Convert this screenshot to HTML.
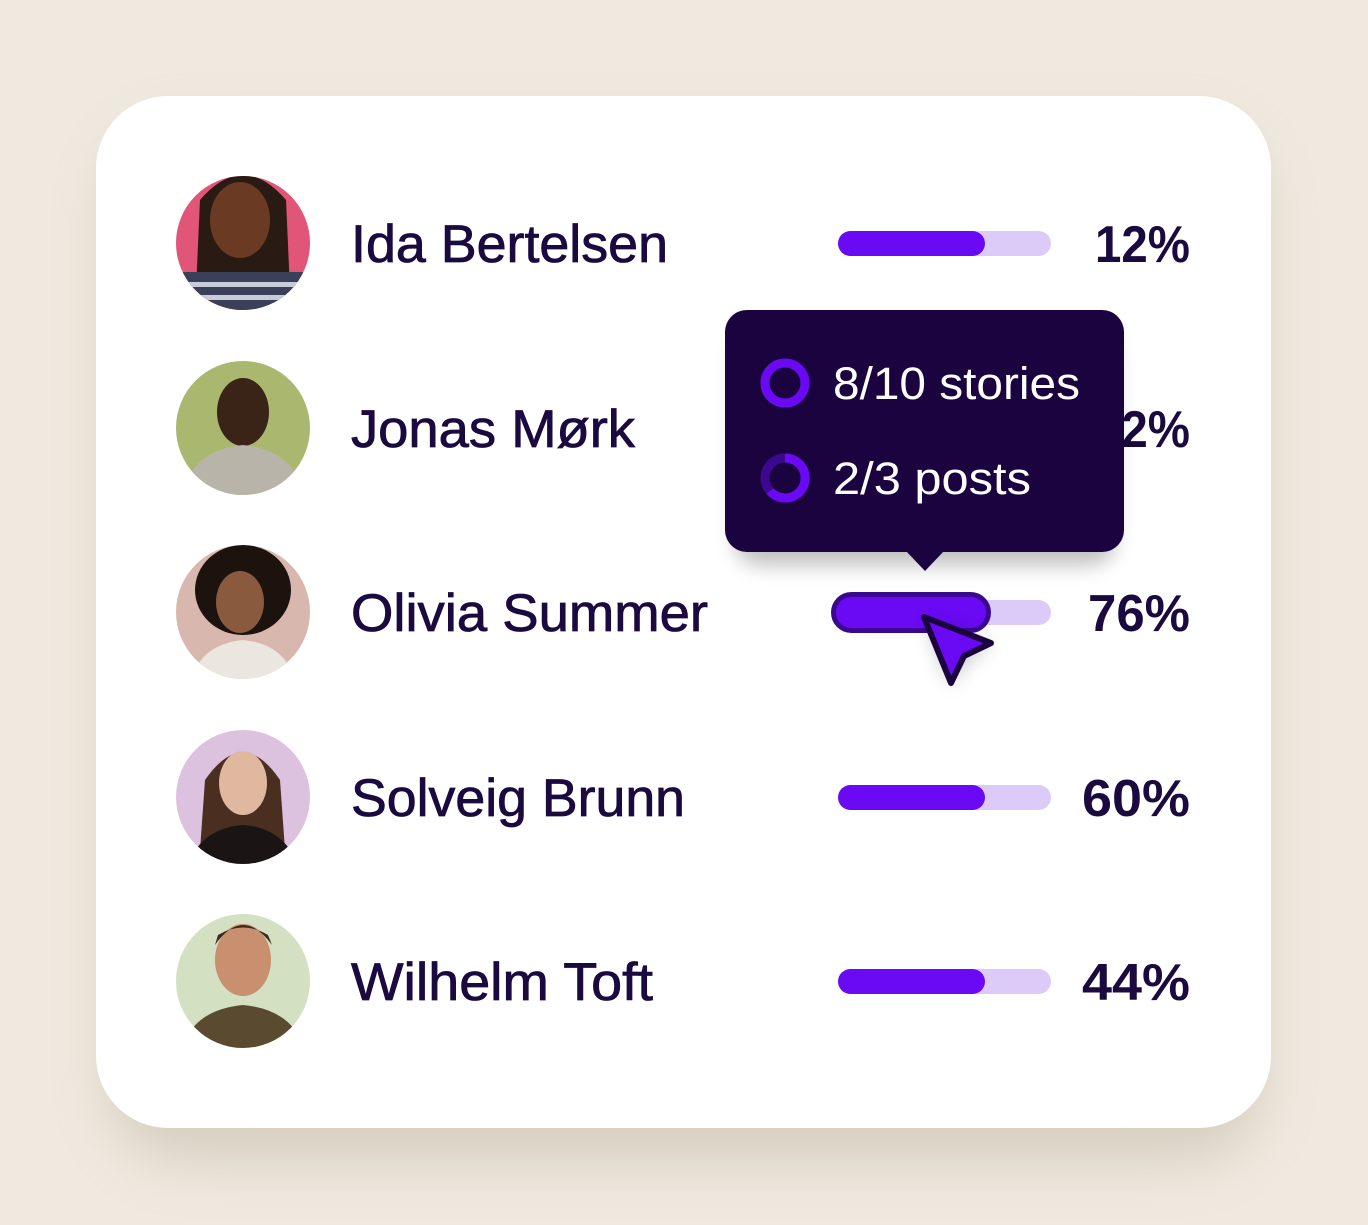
<!DOCTYPE html>
<html><head><meta charset="utf-8"><style>
html,body{margin:0;padding:0;background:#efe9df;}
svg{display:block}
text{font-family:"Liberation Sans",sans-serif}
</style></head><body>
<svg width="1368" height="1225" viewBox="0 0 1368 1225" xmlns="http://www.w3.org/2000/svg">
<defs>
<filter id="sh" x="-20%" y="-20%" width="140%" height="150%"><feGaussianBlur stdDeviation="28"/></filter>
<filter id="sh2" x="-20%" y="-20%" width="140%" height="160%"><feGaussianBlur stdDeviation="10"/></filter>
<clipPath id="c1"><circle cx="243" cy="243" r="67"/></clipPath>
<clipPath id="c2"><circle cx="243" cy="428" r="67"/></clipPath>
<clipPath id="c3"><circle cx="243" cy="612" r="67"/></clipPath>
<clipPath id="c4"><circle cx="243" cy="797" r="67"/></clipPath>
<clipPath id="c5"><circle cx="243" cy="981" r="67"/></clipPath>
</defs>
<rect width="1368" height="1225" fill="#efe9df"/>
<rect x="110" y="130" width="1150" height="1030" rx="70" fill="#b8ab98" opacity="0.45" filter="url(#sh)"/>
<rect x="96" y="96" width="1175" height="1032" rx="72" fill="#fff"/>

<!-- avatars -->
<g clip-path="url(#c1)"><rect x="170" y="170" width="150" height="150" fill="#e05578"/>
<path d="M200 200 Q243 150 286 200 L290 290 L196 290Z" fill="#2a1a14"/>
<ellipse cx="240" cy="220" rx="30" ry="38" fill="#6a3a22"/>
<path d="M185 300 Q243 255 300 300 L300 320 L185 320Z" fill="#8a5030"/>
<rect x="180" y="272" width="130" height="50" fill="#3a3f5a"/>
<rect x="180" y="282" width="130" height="5" fill="#c8ccd8"/><rect x="180" y="295" width="130" height="5" fill="#c8ccd8"/></g>
<g clip-path="url(#c2)"><rect x="170" y="355" width="150" height="150" fill="#a9b86e"/>
<ellipse cx="243" cy="412" rx="26" ry="34" fill="#3a2418"/>
<path d="M180 500 Q190 450 243 445 Q296 450 306 500Z" fill="#b8b4aa"/></g>
<g clip-path="url(#c3)"><rect x="170" y="540" width="150" height="150" fill="#d8b7ae"/>
<ellipse cx="243" cy="590" rx="48" ry="45" fill="#1c120e"/>
<ellipse cx="240" cy="602" rx="24" ry="31" fill="#8a5a3e"/>
<path d="M190 690 Q195 645 243 640 Q291 645 296 690Z" fill="#ece6e0"/></g>
<g clip-path="url(#c4)"><rect x="170" y="725" width="150" height="150" fill="#dcc2de"/>
<path d="M205 780 Q243 725 280 780 L285 850 L200 850Z" fill="#4a2e20"/>
<ellipse cx="243" cy="783" rx="24" ry="32" fill="#e0b8a0"/>
<path d="M185 870 Q200 828 243 825 Q286 828 300 870Z" fill="#1a1414"/></g>
<g clip-path="url(#c5)"><rect x="170" y="910" width="150" height="150" fill="#d3e0c2"/>
<ellipse cx="243" cy="960" rx="28" ry="36" fill="#c8906e"/>
<path d="M215 945 Q243 905 272 945 L268 935 Q243 920 218 935Z" fill="#3a2a20"/>
<path d="M180 1055 Q190 1010 243 1005 Q296 1010 306 1055Z" fill="#5a4a30"/></g>

<!-- names -->
<g fill="#1a0a3f" stroke="#1a0a3f" stroke-width="0.8" font-size="53" lengthAdjust="spacingAndGlyphs">
<text x="351" y="262" textLength="317" lengthAdjust="spacingAndGlyphs">Ida Bertelsen</text>
<text x="351" y="447" textLength="284" lengthAdjust="spacingAndGlyphs">Jonas Mørk</text>
<text x="351" y="631" textLength="357" lengthAdjust="spacingAndGlyphs">Olivia Summer</text>
<text x="351" y="816" textLength="334" lengthAdjust="spacingAndGlyphs">Solveig Brunn</text>
<text x="351" y="1000" textLength="302" lengthAdjust="spacingAndGlyphs">Wilhelm Toft</text>
</g>
<g fill="#1a0a3f" font-size="52" font-weight="bold">
<text x="1095" y="262" textLength="95" lengthAdjust="spacingAndGlyphs">12%</text>
<text x="1095" y="447" textLength="95" lengthAdjust="spacingAndGlyphs">22%</text>
<text x="1088" y="631" textLength="102" lengthAdjust="spacingAndGlyphs">76%</text>
<text x="1082" y="816" textLength="108" lengthAdjust="spacingAndGlyphs">60%</text>
<text x="1082" y="1000" textLength="108" lengthAdjust="spacingAndGlyphs">44%</text>
</g>

<!-- bars -->
<g>
<rect x="838" y="231" width="213" height="25" rx="12.5" fill="#dccbf8"/><rect x="838" y="231" width="147" height="25" rx="12.5" fill="#6a0af5"/>
<rect x="838" y="600" width="213" height="25" rx="12.5" fill="#dccbf8"/>
<rect x="838" y="785" width="213" height="25" rx="12.5" fill="#dccbf8"/><rect x="838" y="785" width="147" height="25" rx="12.5" fill="#6a0af5"/>
<rect x="838" y="969" width="213" height="25" rx="12.5" fill="#dccbf8"/><rect x="838" y="969" width="147" height="25" rx="12.5" fill="#6a0af5"/>
<rect x="833.5" y="594.5" width="155" height="36" rx="18" fill="#6a0af5" stroke="#3a0890" stroke-width="5"/>
</g>

<!-- tooltip -->
<rect x="735" y="335" width="380" height="230" rx="24" fill="#000" opacity="0.25" filter="url(#sh2)"/>
<rect x="725" y="310" width="399" height="242" rx="22" fill="#1b0340"/>
<path d="M906 551 L925 571 L944 551Z" fill="#1b0340"/>
<circle cx="785" cy="383" r="20" fill="none" stroke="#6a0af5" stroke-width="9"/>
<circle cx="785" cy="478" r="20" fill="none" stroke="#3d0890" stroke-width="9"/>
<path d="M785 458 A20 20 0 1 1 770 491" fill="none" stroke="#6a0af5" stroke-width="9"/>
<g fill="#fff" font-size="45"><text x="833" y="399" textLength="247" lengthAdjust="spacingAndGlyphs">8/10 stories</text><text x="833" y="494" textLength="198" lengthAdjust="spacingAndGlyphs">2/3 posts</text></g>

<!-- cursor -->
<path d="M927 622 L992 646 L965 659 L952 686Z" fill="#000" opacity="0.25" filter="url(#sh2)"/>
<path d="M924 617 L991 643 L964 656 L951 683Z" fill="#6a0af5" stroke="#1b0340" stroke-width="6" stroke-linejoin="round"/>
</svg>
</body></html>
